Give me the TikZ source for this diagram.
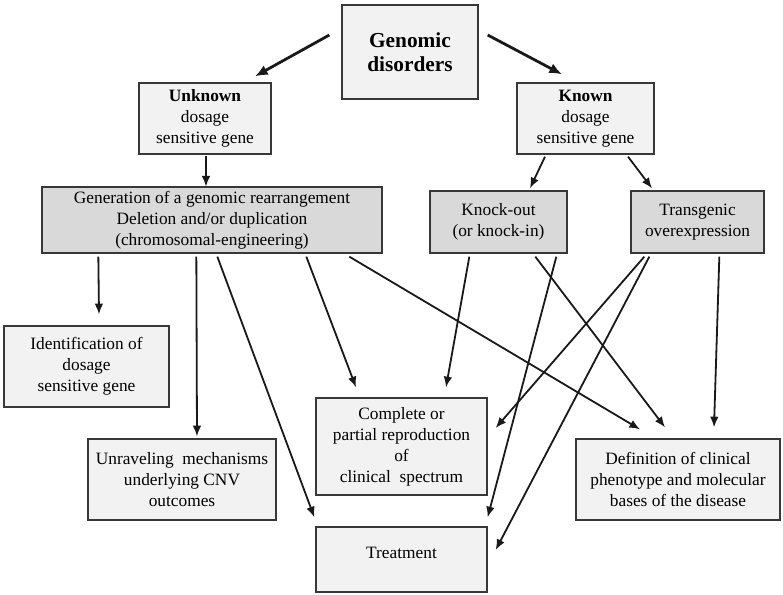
\documentclass[tikz,border=0pt]{standalone}
\usepackage{fontspec}
\setmainfont{Liberation Serif}
\usetikzlibrary{arrows.meta,calc}
\begin{document}
\begin{tikzpicture}[x=0.75pt,y=-0.75pt,
  box/.style={draw=black!78,line width=1pt,fill=black!5,align=center,inner sep=0pt,
    font=\fontsize{13}{15.75}\selectfont},
  graybox/.style={box,fill=black!15},
  arr/.style={-{Latex[length=8pt,width=6.5pt]},line width=1.35pt,black!90},
  bigarr/.style={-{Latex[length=9.5pt,width=8pt]},line width=2.1pt,black!90}]
\useasboundingbox (0,0) rectangle (783,595);

\node[box,minimum width=102pt,minimum height=70.5pt,font=\fontsize{16}{18}\selectfont\bfseries] (gd) at (410,52) {Genomic\\disorders};
\node[box,minimum width=99pt,minimum height=53.25pt] (unk) at (205,118.5) {\textbf{Unknown}\\dosage\\sensitive gene};
\node[box,minimum width=102.75pt,minimum height=53.25pt] (kn) at (585.5,118.5) {\textbf{Known}\\dosage\\sensitive gene};
\node[graybox,minimum width=255pt,minimum height=49.5pt] (gen) at (212,220) {Generation of a genomic rearrangement\\Deletion and/or duplication\\(chromosomal-engineering)};
\node[graybox,minimum width=102.75pt,minimum height=46.5pt] (ko) at (498.5,222) {Knock-out\\(or knock-in)};
\node[graybox,minimum width=99.75pt,minimum height=46.5pt] (tg) at (697.5,222) {Transgenic\\overexpression};
\node[box,minimum width=123.75pt,minimum height=60.75pt] (id) at (86.5,366.5) {Identification of\\dosage\\sensitive gene};
\node[box,minimum width=141pt,minimum height=60.75pt] (unr) at (182,479.5) {Unraveling~ mechanisms\\underlying CNV\\outcomes};
\node[box,minimum width=128.25pt,minimum height=72.75pt] (comp) at (401.5,446.5) {Complete or\\partial reproduction\\of\\clinical~ spectrum};
\node[box,minimum width=153pt,minimum height=60.75pt] (def) at (678,479.5) {Definition of clinical\\phenotype and molecular\\bases of the disease};
\node[box,minimum width=128.25pt,minimum height=48.75pt] (tr) at (401.5,559.5) {};
\node[font=\fontsize{13}{15.75}\selectfont] (trt) at (401.5,553) {Treatment};

\draw[bigarr] ($(gd.west)+(-12,-17)$) -- ($(unk.north)+(50,-6)$);
\draw[bigarr] ($(gd.east)+(9,-17)$) -- ($(kn.north)+(-23.5,-8)$);

\draw[arr] ($(unk.south)+(1,1)$) -- ($(unk.south)+(1,32)$);
\draw[arr] ($(kn.south)+(-40.5,2)$) -- ($(ko.north)+(31.5,-2)$);
\draw[arr] ($(kn.south)+(42.5,2)$) -- ($(tg.north)+(-45.5,-2)$);

\draw[arr] ($(gen.south west)+(57,3)$) -- ($(id.north)+(12.5,-11)$);
\draw[arr] ($(gen.south west)+(155,3)$) -- ($(unr.north)+(15,-2)$);
\draw[arr] ($(gen.south west)+(176,3)$) -- ($(tr.north west)+(-1,-9)$);
\draw[arr] ($(gen.south west)+(265,3)$) -- ($(comp.north)+(-45.5,-10)$);
\draw[arr] ($(gen.south west)+(308,3)$) -- ($(def.north)+(-38,-9)$);

\draw[arr] ($(ko.south west)+(40,3)$) -- ($(comp.north)+(44.5,-10)$);
\draw[arr] ($(ko.south west)+(106,3)$) -- ($(def.north)+(-13,-11)$);
\draw[arr] ($(ko.south west)+(127,3)$) -- ($(tr.north east)+(0,-9)$);

\draw[arr] ($(tg.south west)+(14,3)$) -- ($(comp.east)+(8,-18.5)$);
\draw[arr] ($(tg.south west)+(19,3)$) -- ($(tr.east)+(8,-9.5)$);
\draw[arr] ($(tg.south west)+(89,3)$) -- ($(def.north)+(36,-11)$);
\end{tikzpicture}
\end{document}
